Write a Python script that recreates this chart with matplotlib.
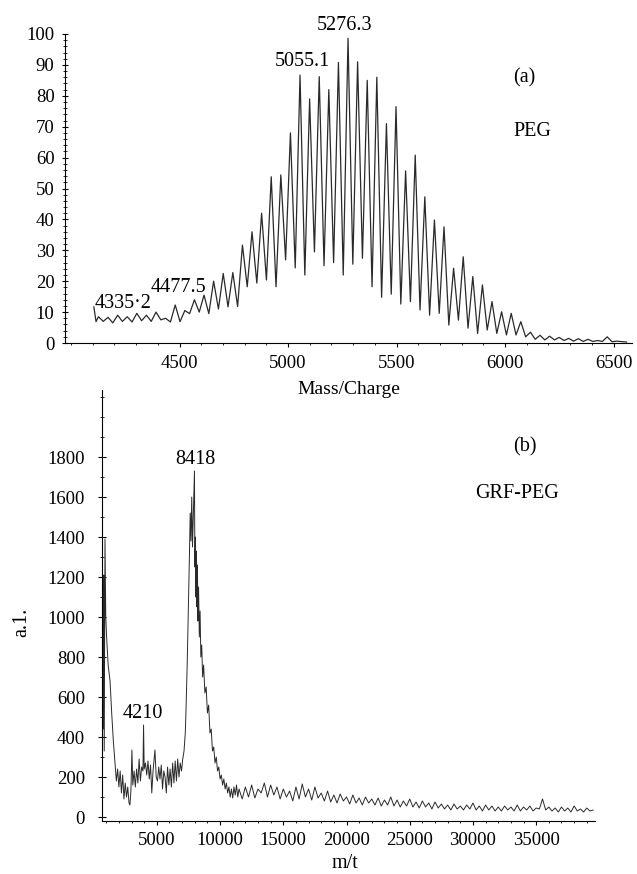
import numpy as np
import matplotlib.pyplot as plt
from matplotlib.ticker import MultipleLocator

plt.rcParams['font.family'] = ['Liberation Serif', 'DejaVu Serif']

# (a) PEG spectrum: trace points (peak / valley pairs)
peg_mz = [4105, 4115,
          4126.1, 4148.2, 4170.3, 4192.4, 4214.5, 4236.6, 4258.8, 4280.9,
          4303.0, 4325.1, 4347.3, 4369.4, 4391.5, 4413.6, 4435.7, 4457.9,
          4480.0, 4502.1, 4524.2, 4546.3, 4568.5, 4590.6, 4612.7, 4634.8,
          4656.9, 4679.1, 4701.2, 4723.3, 4745.4, 4767.5, 4789.7, 4811.8,
          4833.9, 4856.0, 4878.1, 4900.3, 4922.4, 4944.5, 4966.6, 4988.7,
          5010.9, 5033.0, 5055.1, 5077.2, 5099.3, 5121.5, 5143.6, 5165.7,
          5187.8, 5209.9, 5232.1, 5254.2, 5276.3, 5298.4, 5320.5, 5342.7,
          5364.8, 5386.9, 5409.0, 5431.1, 5453.3, 5475.4, 5497.5, 5519.6,
          5541.7, 5563.9, 5586.0, 5608.1, 5630.2, 5652.3, 5674.5, 5696.6,
          5718.7, 5740.8, 5762.9, 5785.1, 5807.2, 5829.3, 5851.4, 5873.5,
          5895.7, 5917.8, 5939.9, 5962.0, 5984.1, 6006.3, 6028.4, 6050.5,
          6072.6, 6094.7, 6116.9, 6139.0, 6161.1, 6183.2, 6205.3, 6227.5,
          6249.6, 6271.7, 6293.8, 6315.9, 6338.1, 6360.2, 6382.3, 6404.4,
          6426.5, 6448.7, 6470.8, 6492.9, 6515.0, 6560]
peg_int = [11.7, 6.9,
           8.5, 7.0, 8.3, 6.5, 9.0, 7.0, 8.5, 6.8,
           9.6, 7.2, 9.0, 7.0, 10.0, 7.5, 8.0, 6.8,
           12.3, 6.9, 10.5, 9.5, 14.0, 10.0, 15.5, 9.5,
           20.0, 11.0, 22.5, 11.7, 22.8, 11.8, 31.7, 18.2,
           36.0, 19.4, 42.0, 20.4, 53.8, 18.2, 54.4, 26.9,
           68.0, 24.3, 86.7, 22.0, 79.0, 29.5, 86.2, 25.0,
           82.0, 26.0, 90.8, 22.0, 98.6, 25.5, 91.0, 27.4,
           85.0, 18.2, 86.0, 14.8, 71.0, 15.8, 76.5, 12.6,
           55.7, 13.4, 60.8, 10.7, 47.3, 9.0, 39.8, 9.6,
           37.6, 5.8, 24.2, 7.4, 27.9, 4.8, 21.5, 3.1,
           18.8, 4.2, 13.4, 3.1, 10.1, 2.6, 9.6, 2.6,
           6.9, 2.0, 3.5, 1.2, 2.5, 1.0, 2.2, 1.0,
           1.8, 0.8, 1.5, 0.6, 1.4, 0.5, 1.2, 0.5,
           0.8, 0.5, 2.0, 0.4, 0.6, 0.3]

# (b) GRF-PEG spectrum: trace points
grf_mz = [640, 680, 720, 760, 800, 840, 900, 960, 1030, 1150, 1300, 1430, 1560,
          1700, 1800, 1900, 2000, 2100, 2200, 2300, 2400, 2500, 2600, 2700,
          2800, 2870, 2950, 3030, 3100, 3200, 3300, 3400, 3500, 3600, 3700,
          3800, 3900, 3950, 4000, 4100, 4200, 4300, 4400, 4500, 4600, 4700,
          4850, 4950, 5050, 5150, 5250, 5350, 5450, 5550, 5650, 5750, 5850,
          5950, 6050, 6150, 6250, 6350, 6450, 6550, 6650, 6750, 6850, 6950,
          7050, 7150, 7250,
          7300, 7400, 7480, 7560, 7640, 7700, 7760, 7820, 7880, 7940, 7975,
          8010, 8050, 8090, 8130, 8170, 8210, 8250, 8300, 8360, 8420, 8480,
          8550, 8620, 8700, 8800, 8900, 9000, 9100, 9200, 9300, 9400, 9500,
          9600, 9700, 9800, 9900, 10000, 10100, 10200, 10300, 10400, 10500,
          10600, 10700, 10800, 10900, 11000, 11100, 11200, 11300, 11400, 11500,
          11750, 12000, 12250, 12500, 12750, 13000, 13250, 13500, 13750, 14000,
          14250, 14500, 14750, 15000, 15250, 15500, 15750, 16000, 16250, 16500,
          16750, 17000, 17250, 17500, 17750, 18000, 18250, 18500, 18750, 19000,
          19250, 19500, 19750, 20000, 20250, 20500, 20750, 21000, 21250, 21500,
          21750, 22000, 22250, 22500, 22750, 23000, 23250, 23500, 23750, 24000,
          24250, 24500, 24750, 25000, 25250, 25500, 25750, 26000, 26250, 26500,
          26750, 27000, 27250, 27500, 27750, 28000, 28250, 28500, 28750, 29000,
          29250, 29500, 29750, 30000, 30250, 30500, 30750, 31000, 31250, 31500,
          31750, 32000, 32250, 32500, 32750, 33000, 33250, 33500, 33750, 34000,
          34250, 34500, 34750, 35000, 35250, 35500, 35750, 36000, 36250, 36500,
          36750, 37000, 37250, 37500, 37750, 38000, 38250, 38500, 38750, 39000,
          39250, 39500]
grf_int = [1600, 1100, 650, 440, 1210, 330, 1390, 1000, 900, 760, 680, 520, 380,
           260, 180, 240, 150, 230, 120, 210, 90, 170, 100, 150,
           70, 60, 130, 335, 160, 230, 150, 240, 170, 290, 180,
           250, 230, 460, 240, 270, 210, 280, 190, 260, 120, 230,
           335, 200, 180, 250, 190, 260, 140, 230, 200, 120, 250,
           160, 240, 150, 270, 170, 280, 180, 290, 200, 270, 230,
           290, 330, 420,
           520, 760, 1000, 1250, 1520, 1380, 1600, 1350, 1500, 1650, 1730,
           1250, 1400, 1100, 1330, 1050, 1260, 980, 1150, 900, 1030, 800,
           860, 700, 760, 620, 650, 520, 560, 420, 440, 330, 350,
           270, 300, 230, 250, 190, 210, 160, 190, 140, 170,
           120, 150, 100, 140, 95, 150, 110, 160, 100, 140,
           90, 150, 100, 160, 95, 140, 120, 170, 100, 160,
           110, 150, 90, 140, 100, 130, 80, 150, 90, 165,
           100, 140, 85, 150, 95, 120, 80, 130, 75, 110,
           70, 115, 80, 100, 65, 110, 70, 95, 60, 100,
           70, 90, 60, 95, 55, 85, 60, 100, 55, 85,
           50, 80, 55, 90, 50, 75, 45, 80, 50, 70,
           40, 75, 45, 65, 40, 60, 35, 65, 40, 55,
           35, 60, 40, 70, 35, 55, 30, 60, 35, 55,
           30, 50, 30, 55, 35, 50, 30, 60, 30, 50,
           35, 55, 30, 45, 40, 90, 35, 50, 30, 45,
           25, 50, 30, 45, 25, 55, 30, 40, 25, 45,
           30, 35]

W, H = 637, 874
fig = plt.figure(figsize=(W / 100, H / 100), dpi=100)

def px_box(l, t, r, b):
    return [l / W, 1 - b / H, (r - l) / W, (b - t) / H]

def fig_text(x, y, s, **kw):
    fig.text(x / W, 1 - y / H, s, **kw)

line_col = '#2a2a2a'

# ---- top panel
ax1 = fig.add_axes(px_box(65, 34, 632, 343))
ax1.plot(peg_mz, peg_int, color=line_col, lw=0.9)
ax1.set_xlim(3972, 6585)
ax1.set_ylim(0, 100)
ax1.set_xticks([4500, 5000, 5500, 6000, 6500])
ax1.set_yticks(range(0, 101, 10))
ax1.yaxis.set_minor_locator(MultipleLocator(2))
ax1.xaxis.set_minor_locator(MultipleLocator(100))
ax1.tick_params(axis='y', which='major', direction='inout', length=5, labelsize=13.5, pad=5)
ax1.tick_params(axis='y', which='minor', direction='inout', length=2.5)
ax1.tick_params(axis='x', which='major', direction='out', length=3, labelsize=13.5, pad=6)
ax1.tick_params(axis='x', which='minor', direction='out', length=1.5)
for s in ['top', 'right']:
    ax1.spines[s].set_visible(False)
ax1.set_zorder(2)
ax1.patch.set_visible(False)
ax1.set_xlabel('Mass/Charge', fontsize=14, labelpad=6)

fig_text(345, 25, '5276.3', fontsize=14.5, ha='center', va='center')
fig_text(302, 62, '5055.1', fontsize=14.5, ha='center', va='center')
fig_text(178, 287, '4477.5', fontsize=14.5, ha='center', va='center')
fig_text(123, 303, '4335\u00b72', fontsize=14.5, ha='center', va='center')
fig_text(513, 78, '(a)', fontsize=14.5, ha='left', va='center')
fig_text(513, 132, 'PEG', fontsize=14.5, ha='left', va='center')

# ---- bottom panel
ax2 = fig.add_axes(px_box(101.7, 390, 595, 821))
ax2.patch.set_visible(False)
ax2.plot(grf_mz, grf_int, color=line_col, lw=0.7)
ax2.set_xlim(640, 39650)
ax2.set_ylim(-20, 2135)
ax2.set_xticks([5000, 10000, 15000, 20000, 25000, 30000, 35000])
ax2.set_yticks(range(0, 1801, 200))
ax2.yaxis.set_minor_locator(MultipleLocator(100))
ax2.xaxis.set_minor_locator(MultipleLocator(1000))
ax2.tick_params(axis='y', which='major', direction='inout', length=6, labelsize=13.5, pad=9)
ax2.tick_params(axis='y', which='minor', direction='inout', length=3)
ax2.tick_params(axis='x', which='major', direction='out', length=3, labelsize=13.5, pad=5)
ax2.tick_params(axis='x', which='minor', direction='out', length=1.5)
for s in ['top', 'right']:
    ax2.spines[s].set_visible(False)

fig_text(195, 459, '8418', fontsize=14.5, ha='center', va='center')
fig_text(143, 713, '4210', fontsize=14.5, ha='center', va='center')
fig_text(525, 447, '(b)', fontsize=14.5, ha='center', va='center')
fig_text(475, 493, 'GRF-PEG', fontsize=14.5, ha='left', va='center')
fig_text(22, 622, 'a.1.', fontsize=14.5, ha='center', va='center', rotation=90)
fig_text(345, 864, 'm/t', fontsize=14.5, ha='center', va='center')

fig.savefig('out.png', dpi=100)
